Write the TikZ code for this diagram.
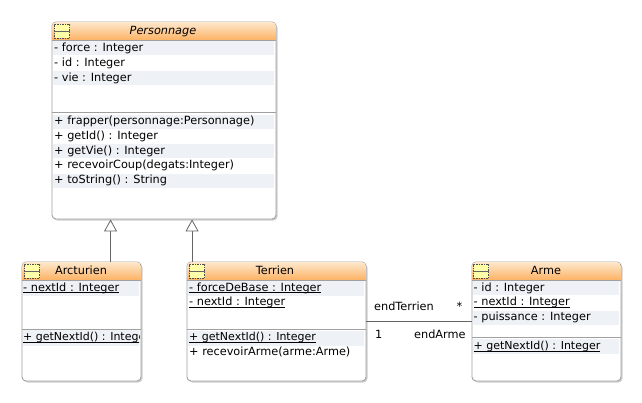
\documentclass[tikz,border=0pt]{standalone}
\usepackage{fontspec}
\setmainfont{DejaVu Sans}
\usetikzlibrary{arrows.meta,positioning,calc,shadows}
\definecolor{boxline}{RGB}{160,160,160}
\definecolor{assocline}{RGB}{100,100,100}
\definecolor{rowfill}{RGB}{238,241,245}
\definecolor{hdrtop}{RGB}{253,232,205}
\definecolor{hdrbot}{RGB}{253,178,100}
\definecolor{iconfill}{RGB}{255,255,170}
\newsavebox{\ulbox}
\newcommand{\stat}[1]{\sbox{\ulbox}{#1}\rlap{\rule[-1.6pt]{\wd\ulbox}{0.6pt}}\usebox{\ulbox}}
\newcommand{\getnext}{\stat{\fontsize{11}{13}\selectfont + getNextId() : Integer}}

\begin{document}
\begin{tikzpicture}[
    x=1pt,y=-1pt,
    font=\fontsize{11.3}{13}\selectfont,
    classbox/.style={draw=boxline,line width=0.9pt,rounded corners=4pt,fill=white,inner sep=0pt,
      drop shadow={shadow xshift=1.5pt,shadow yshift=-1.5pt,opacity=.35,fill=black!55}},
    hdr/.style={top color=hdrtop,bottom color=hdrbot,draw=none},
    icon/.style={draw=black!70,dash pattern=on 1.5pt off 1pt,line width=0.7pt,fill=iconfill,inner sep=0pt,minimum width=15pt,minimum height=14pt},
    rowbg/.style={fill=rowfill},
    rowtxt/.style={anchor=west,inner sep=0pt,text height=8.4pt,text depth=2.2pt},
    ttl/.style={inner sep=0pt,text height=8.4pt,text depth=2.2pt},
    sep/.style={draw=boxline,line width=0.8pt},
    inherit/.style={draw=assocline,line width=0.8pt,-{Triangle[open,fill=white,length=12pt,width=13pt]}},
    assoc/.style={draw=assocline,line width=0.8pt},
    lbl/.style={inner sep=0pt,anchor=west,text height=8.4pt,text depth=2.2pt},
]
\useasboundingbox (0,0) rectangle (642,402);

% ================= the four class boxes =================
\node[classbox,minimum width=224pt,minimum height=197pt] (personnage) at (164,120.5) {};
\node[classbox,minimum width=119pt,minimum height=119pt] (arcturien) at (81.5,321.5) {};
\node[classbox,minimum width=179pt,minimum height=119pt] (terrien) at (276.5,321.5) {};
\node[classbox,minimum width=149pt,minimum height=119pt] (arme) at (546.5,321.5) {};

% ================= orange header bands =================
\foreach \n in {personnage,arcturien,terrien,arme}{
  \path[hdr] ($(\n.north west)+(0.5,18.5)$) [rounded corners=4pt] |- ($(\n.north east)+(-0.5,0.5)$) [sharp corners] -- ++(0,18) -- cycle;
  \draw[sep] ($(\n.north west)+(0,18.5)$) -- ($(\n.north east)+(0,18.5)$);
}
\node[ttl] (personnageTitle) at (163,31.5) {\textit{Personnage}};
\node[ttl] (arcturienTitle) at (81,271.5) {Arcturien};
\node[ttl] (terrienTitle) at (275,271.5) {Terrien};
\node[ttl] (armeTitle) at (546,271.5) {Arme};

% ================= icons =================
\foreach \x/\y/\n in {62/31/iconA,32/271/iconB,197/271/iconC,481/271/iconD}{
  \node[icon] (\n) at (\x,\y) {};
  \draw[black!60,line width=0.5pt] (\n.west) -- (\n.east);
}

% ================= striped rows =================
\foreach \xa/\xb/\ya/\yb in {53/274/41/55,53/274/71/85,53/274/115/129,53/274/144/158,53/274/174/188,
    23/139/281/296,23/139/330/346,188/364/281/296,188/364/331/346,473/619/281/295,473/619/311/325,473/619/339/354}{
  \fill[rowbg] (\xa,\ya) rectangle (\xb,\yb);
}

% ================= compartment separators =================
\draw[sep] (personnage.west |- 0,112) -- (personnage.east |- 0,112);
\draw[sep] (arcturien.west |- 0,329) -- (arcturien.east |- 0,329);
\draw[sep] (terrien.west |- 0,329) -- (terrien.east |- 0,329);
\draw[sep] (arme.west |- 0,337.5) -- (arme.east |- 0,337.5);

% ================= attributes and operations =================
\foreach \y/\t [count=\i] in {48/{- force : Integer},63/{- id : Integer},78/{- vie : Integer},
    121.5/{+ frapper(personnage:Personnage)},136.5/{+ getId() : Integer},151.5/{+ getVie() : Integer},
    165.5/{+ recevoirCoup(degats:Integer)},180.5/{+ toString() : String}}{
  \node[rowtxt] (persRow\i) at (54,\y) {\t};
}
\begin{scope}
\clip (23,280) rectangle (139,350);
\node[rowtxt] (arcRow1) at (23,288) {\stat{- nextId : Integer}};
\node[rowtxt] (arcRow2) at (23,337.5) {\getnext};
\end{scope}
\foreach \y/\t [count=\i] in {288/{\stat{- forceDeBase : Integer}},302.5/{\stat{- nextId : Integer}},
    337.5/{\getnext},352.5/{+ recevoirArme(arme:Arme)}}{
  \node[rowtxt] (terRow\i) at (189,\y) {\t};
}
\foreach \y/\t [count=\i] in {288/{- id : Integer},302.5/{\stat{- nextId : Integer}},317.5/{- puissance : Integer},
    346.5/{\getnext}}{
  \node[rowtxt] (armRow\i) at (473.5,\y) {\t};
}

% ================= connectors =================
\coordinate (arcTop) at ($(arcturien.north west)+(89,0)$);
\coordinate (terTop) at ($(terrien.north west)+(5.5,0)$);
\draw[inherit] (arcTop) -- (arcTop |- personnage.south);
\draw[inherit] (terTop) -- (terTop |- personnage.south);
\draw[assoc] (terrien.east |- 0,321) -- (arme.west |- 0,321);

% ================= association end labels =================
\node[lbl] (endTerrien) at (374,307.5) {endTerrien};
\node[lbl] (multArme) at (456.5,307.5) {*};
\node[lbl] (multTerrien) at (375,335.5) {1};
\node[lbl] (endArme) at (414,335.5) {endArme};

\end{tikzpicture}
\end{document}
